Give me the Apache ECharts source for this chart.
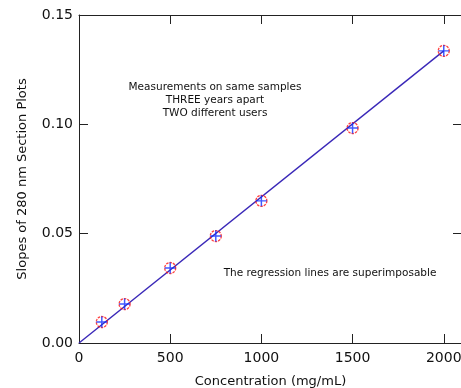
<!DOCTYPE html>
<html>
<head>
<meta charset="utf-8">
<script src="https://cdn.jsdelivr.net/npm/echarts@6/dist/echarts.min.js"></script>
<style>
  html, body { margin: 0; padding: 0; background: #fff; }
  #main { width: 461px; height: 388px; }
</style>
</head>
<body>
<div id="main"></div>
<script>
// concentrations (mg/mL) and measured slopes
const concentration = [125, 250, 500, 750, 1000, 1500, 2000]
const slopes = [0.0096, 0.0178, 0.0343, 0.0489, 0.0650, 0.0983, 0.1336]
// regression line end points
const fitX = [0, 2000]
const fitY = [0, 0.1336]
const xTicks = [0, 500, 1000, 1500, 2000]
const yTicks = [0, 0.05, 0.10, 0.15]
const notes = ['Measurements on same samples', 'THREE years apart', 'TWO different users']

const font = 'DejaVu Sans'
const axisColor = '#222'
const points = concentration.map((c, i) => [c, slopes[i]])
const fitLine = fitX.map((x, i) => [x, fitY[i]])

const myChart = echarts.init(document.getElementById('main'))
const option = {
  animation: false,
  grid: { left: 79, top: 15, width: 383, height: 328, containLabel: false, outerBoundsMode: 'none' },
  xAxis: [
    {
      type: 'value',
      min: xTicks[0],
      max: 2100,
      interval: 500,
      position: 'bottom',
      name: 'Concentration (mg/mL)',
      nameLocation: 'middle',
      nameGap: 32,
      nameTextStyle: { fontFamily: font, fontSize: 13, color: '#111' },
      axisLine: { lineStyle: { color: axisColor, width: 1 } },
      axisTick: { inside: true, length: 9, lineStyle: { color: axisColor } },
      axisLabel: { fontFamily: font, fontSize: 14, color: '#111', margin: 8, showMaxLabel: false, formatter: v => String(v) },
      splitLine: { show: false }
    },
    {
      type: 'value',
      min: 0,
      max: 2100,
      interval: 500,
      position: 'top',
      axisLine: { onZero: false, lineStyle: { color: axisColor, width: 1 } },
      axisTick: { inside: true, length: 9, lineStyle: { color: axisColor } },
      axisLabel: { show: false },
      splitLine: { show: false }
    }
  ],
  yAxis: [
    {
      type: 'value',
      min: yTicks[0],
      max: yTicks[yTicks.length - 1],
      interval: 0.05,
      position: 'left',
      name: 'Slopes of 280 nm Section Plots',
      nameLocation: 'middle',
      nameGap: 50,
      nameTextStyle: { fontFamily: font, fontSize: 13, color: '#111' },
      axisLine: { lineStyle: { color: axisColor, width: 1 } },
      axisTick: { inside: true, length: 9, lineStyle: { color: axisColor } },
      axisLabel: { fontFamily: font, fontSize: 14, color: '#111', margin: 6, formatter: v => v.toFixed(2) },
      splitLine: { show: false }
    },
    {
      type: 'value',
      min: 0,
      max: 0.15,
      interval: 0.05,
      position: 'right',
      axisLine: { show: true, onZero: false, lineStyle: { color: axisColor, width: 1 } },
      axisTick: { show: true, inside: true, length: 9, lineStyle: { color: axisColor } },
      axisLabel: { show: false },
      splitLine: { show: false }
    }
  ],
  series: [
    {
      name: 'fit',
      type: 'line',
      data: fitLine,
      symbol: 'none',
      lineStyle: { color: '#3a28b8', width: 1.4 },
      z: 2
    },
    {
      name: 'circles',
      type: 'scatter',
      data: points,
      symbol: 'circle',
      symbolSize: 11,
      itemStyle: { color: 'rgba(0,0,0,0)', borderColor: '#ff1010', borderWidth: 1.3, borderType: [2.5, 1] },
      z: 3
    },
    {
      name: 'cross',
      type: 'scatter',
      data: points,
      symbol: 'path://M-0.8,-6 L0.8,-6 L0.8,6 L-0.8,6 Z M-6,-0.8 L6,-0.8 L6,0.8 L-6,0.8 Z',
      symbolSize: 11,
      itemStyle: { color: '#1030ff' },
      z: 4
    }
  ],
  graphic: notes.map((t, i) => ({
    type: 'text',
    x: 215,
    y: 87 + i * 13,
    style: { text: t, font: '10.5px "DejaVu Sans"', fill: '#111', align: 'center', verticalAlign: 'middle' }
  })).concat([
    {
      type: 'text',
      x: 330,
      y: 273,
      style: {
        text: 'The regression lines are superimposable',
        font: '10.5px "DejaVu Sans"',
        fill: '#111',
        align: 'center',
        verticalAlign: 'middle'
      }
    }
  ])
}
myChart.setOption(option)
</script>
</body>
</html>
